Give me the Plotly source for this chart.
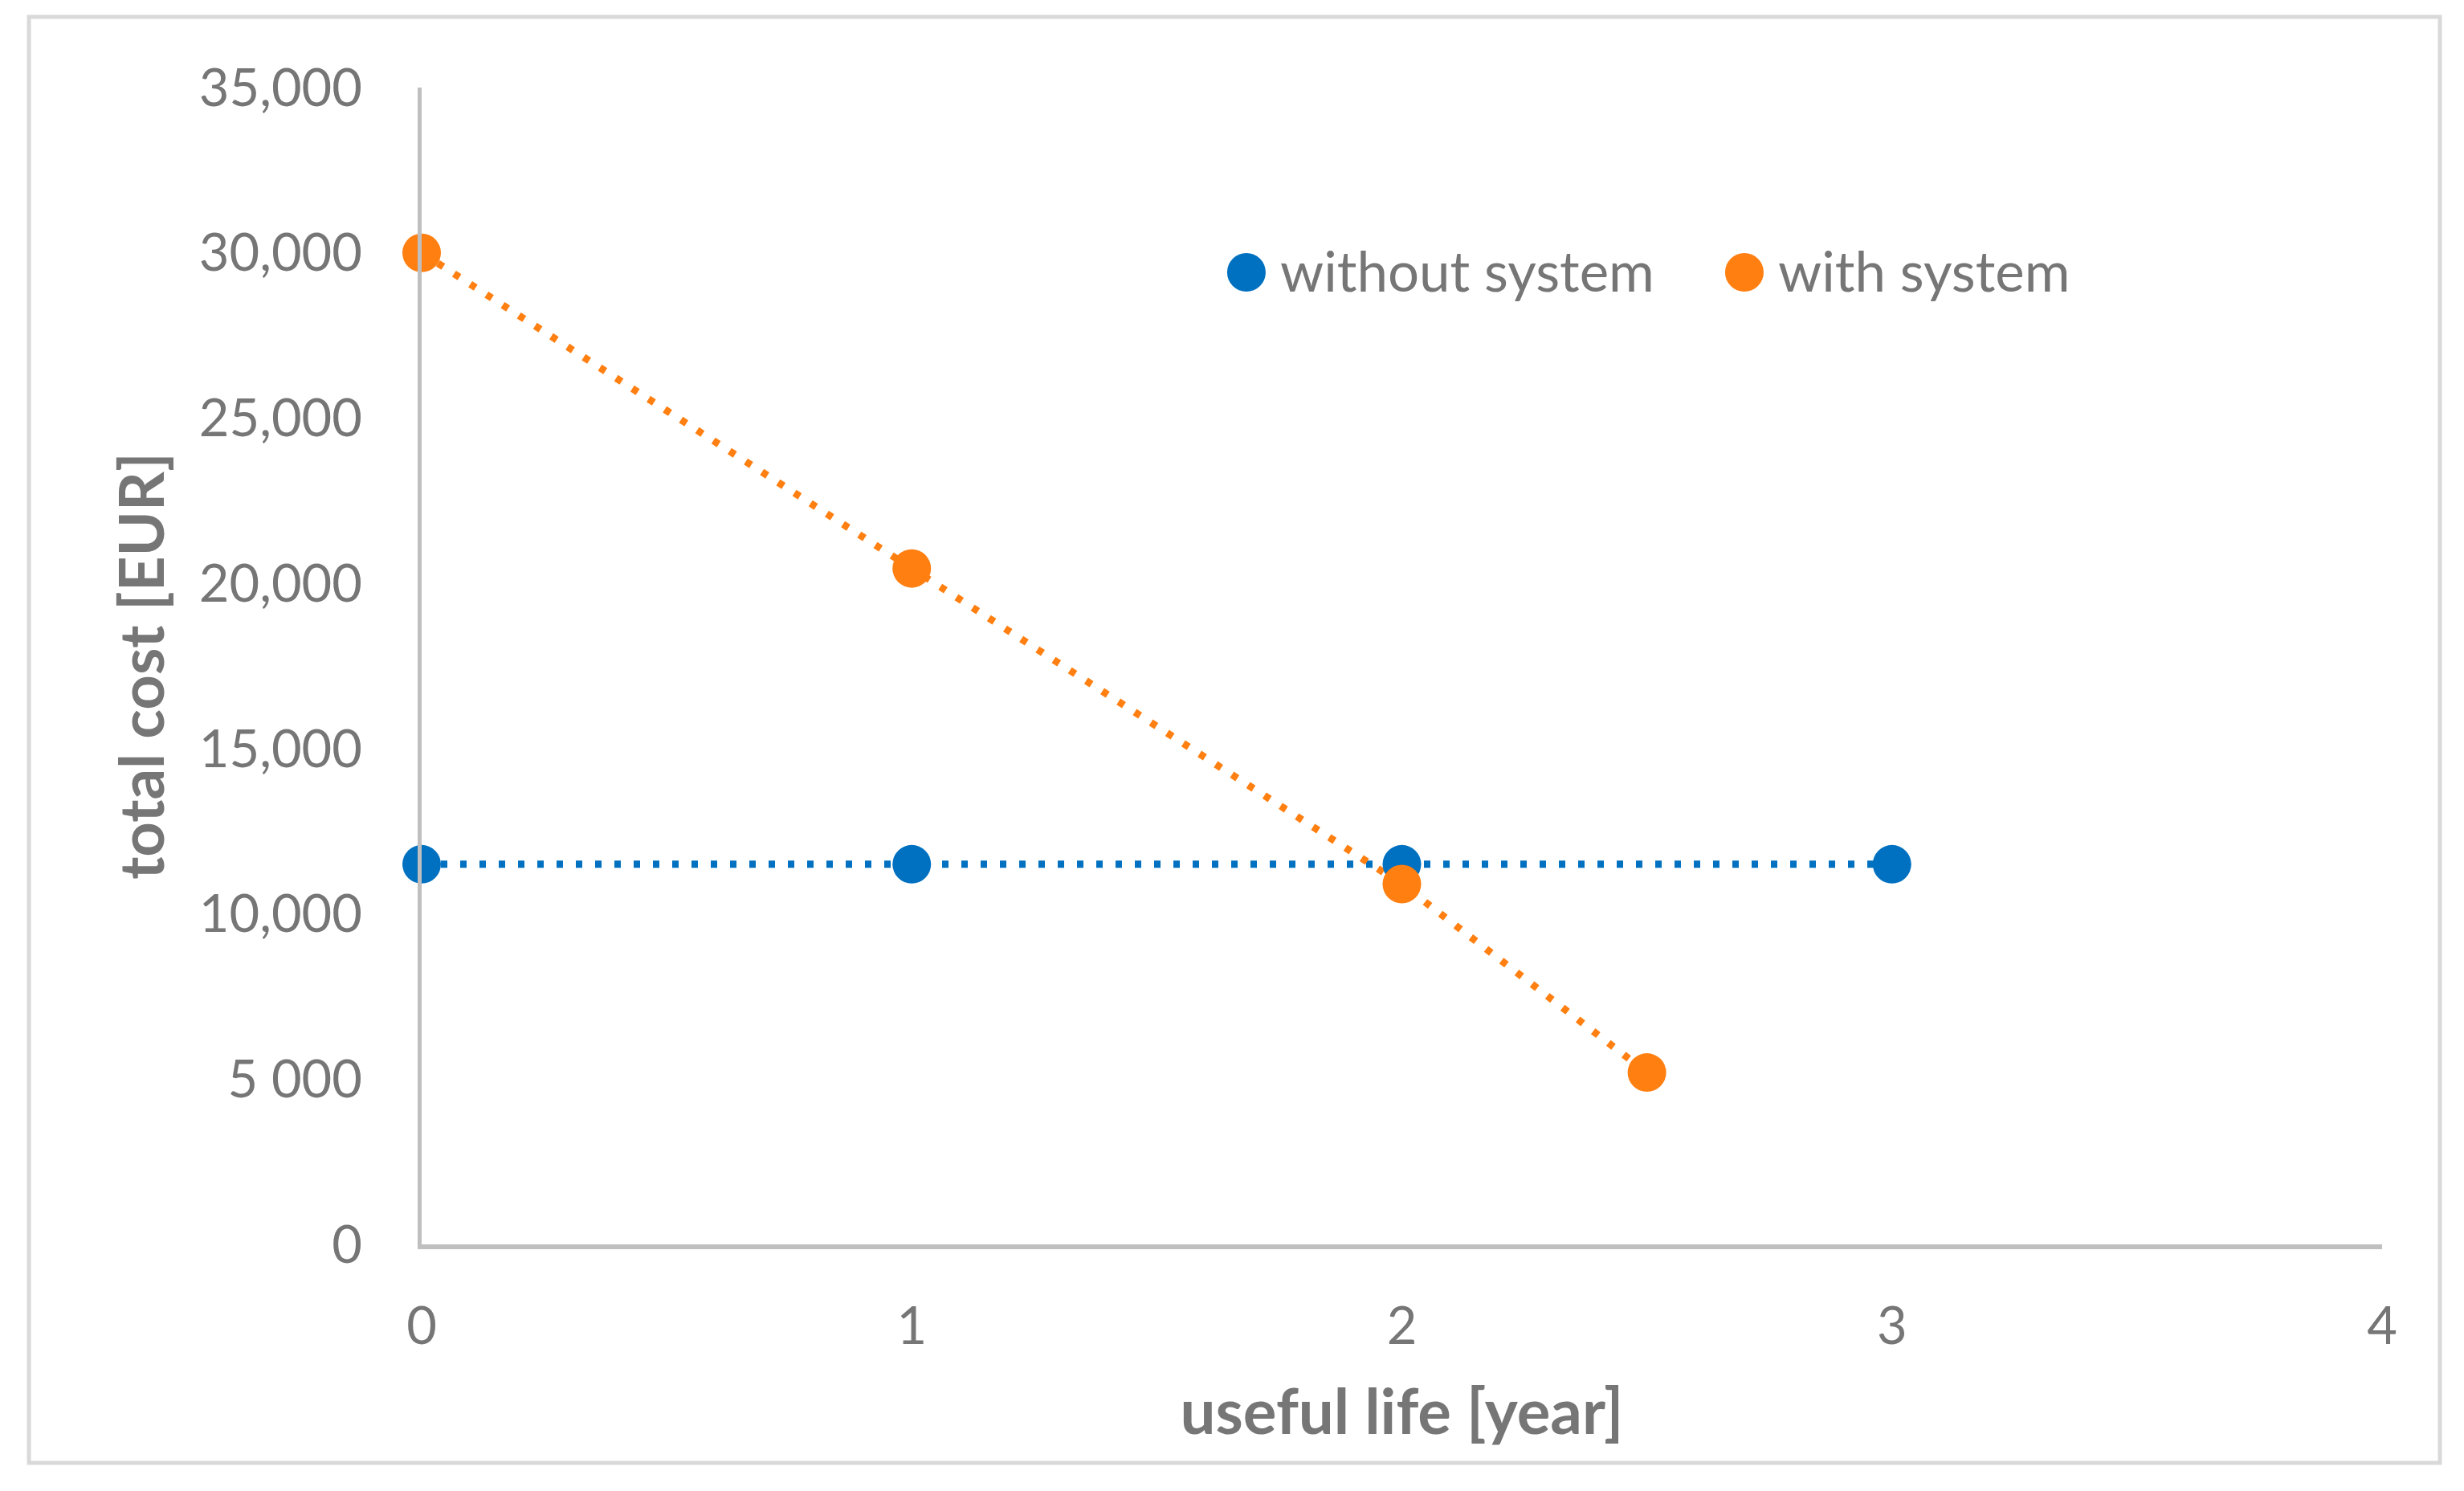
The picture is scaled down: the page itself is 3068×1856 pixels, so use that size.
import plotly.graph_objects as go

# data
years_without = [0, 1, 2, 3]
cost_without = [11500, 11500, 11500, 11500]
years_with = [0, 1, 2, 2.5]
cost_with = [30000, 20450, 10900, 5200]

y_tickvals = [0, 5000, 10000, 15000, 20000, 25000, 30000, 35000]
y_ticktext = ["0", "5 000", "10,000", "15,000", "20,000", "25,000", "30,000", "35,000"]
x_tickvals = [0, 1, 2, 3, 4]
x_ticktext = ["0", "1", "2", "3", "4"]

series_names = ["without system", "with system"]

BLUE = "#0070C0"
ORANGE = "#FF7F11"
TXT = "#767676"
FONT = "Lato"

fig = go.Figure()

# dotted lines
for xs, ys, c in [(years_without, cost_without, BLUE), (years_with, cost_with, ORANGE)]:
    fig.add_trace(go.Scatter(x=xs, y=ys, mode="lines",
                             line=dict(color=c, width=9, dash="8px,16px"),
                             showlegend=False, hoverinfo="skip", cliponaxis=False))
# markers
for xs, ys, c, n in [(years_without, cost_without, BLUE, series_names[0]),
                     (years_with, cost_with, ORANGE, series_names[1])]:
    fig.add_trace(go.Scatter(x=xs, y=ys, mode="markers", name=n,
                             marker=dict(color=c, size=48, line=dict(width=0)),
                             showlegend=False, cliponaxis=False))

# legend built from a circle swatch + text label per series
legend_x = [0.4207, 0.6747]
legend_y = 0.8403
shapes = [dict(type="rect", xref="paper", yref="paper",
               x0=-0.2003, x1=1.0295, y0=-0.1889, y1=1.0611,
               line=dict(color="#D9D9D9", width=5), fillcolor="rgba(0,0,0,0)",
               layer="below")]
annotations = []
for lx, c, n in zip(legend_x, [BLUE, ORANGE], series_names):
    shapes.append(dict(type="circle", xref="paper", yref="paper",
                       xsizemode="pixel", ysizemode="pixel",
                       xanchor=lx, yanchor=legend_y,
                       x0=-24, x1=24, y0=-24, y1=24,
                       fillcolor=c, line=dict(width=0)))
    annotations.append(dict(xref="paper", yref="paper", x=lx, y=legend_y,
                            xshift=40, yshift=2, xanchor="left", yanchor="middle",
                            showarrow=False, text=n,
                            font=dict(family=FONT, size=69, color=TXT)))

fig.update_layout(
    width=3068, height=1856,
    paper_bgcolor="white", plot_bgcolor="white",
    margin=dict(l=525, r=102, t=109, b=307),
    font=dict(family=FONT, color=TXT, size=65),
    showlegend=False,
    shapes=shapes,
    annotations=annotations,
)

fig.update_xaxes(range=[0, 4], tickvals=x_tickvals, ticktext=x_ticktext,
                 showgrid=False, zeroline=False, showline=True,
                 linecolor="#BFBFBF", linewidth=6, ticks="",
                 ticklabelstandoff=40,
                 tickfont=dict(size=65, color=TXT, family=FONT),
                 title=dict(text="<b>useful life [year]</b>", standoff=46,
                            font=dict(size=78, color=TXT, family=FONT)))
fig.update_yaxes(range=[0, 35000], tickvals=y_tickvals, ticktext=y_ticktext,
                 showgrid=False, zeroline=False, showline=True,
                 linecolor="#BFBFBF", linewidth=5, ticks="",
                 ticklabelstandoff=56,
                 tickfont=dict(size=65, color=TXT, family=FONT),
                 title=dict(text="<b>total cost [EUR]</b>", standoff=20,
                            font=dict(size=76, color=TXT, family=FONT)))

fig.write_html("out.html", config={"displayModeBar": False},
               post_script="document.body.style.margin='0';document.body.style.overflow='hidden';")
